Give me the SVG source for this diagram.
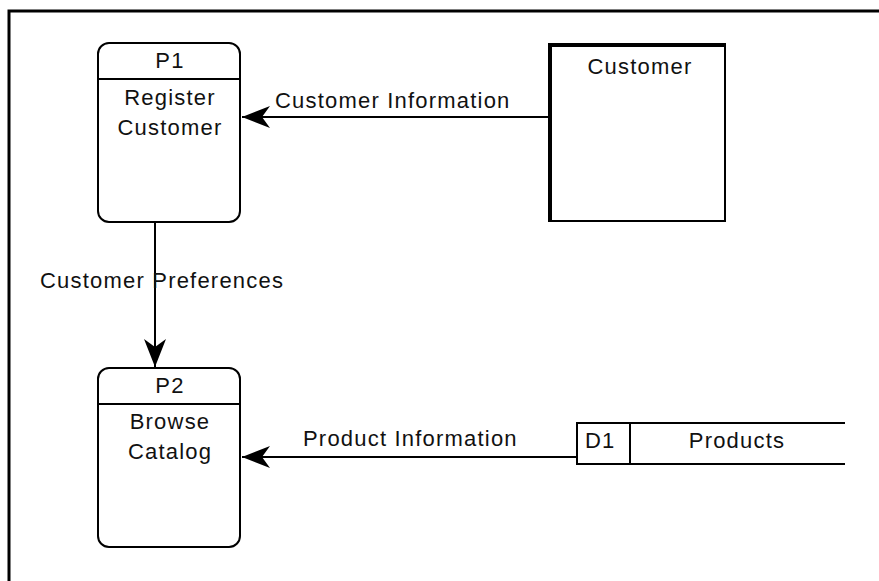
<svg xmlns="http://www.w3.org/2000/svg" width="879" height="581" viewBox="0 0 879 581">
<defs>
<style>
text{font-family:"Liberation Sans",Arial,sans-serif;font-size:22px;letter-spacing:1.2px;fill:#111;}
.box{fill:#fff;stroke:#000;stroke-width:2;}
.ln{fill:none;stroke:#000;stroke-width:2;}
.mid{text-anchor:middle;}
</style>
<marker id="arr" markerUnits="userSpaceOnUse" markerWidth="34" markerHeight="26" viewBox="-30 -13 34 26" refX="0" refY="0" orient="auto">
<path d="M0,0 L-28,-11 L-20,0 L-28,11 Z" fill="#000"/>
</marker>
</defs>
<rect width="879" height="581" fill="#fff"/>
<path d="M9,581 V11 H879" fill="none" stroke="#000" stroke-width="3"/>

<g id="connectors">
<line class="ln" x1="549" y1="117" x2="242" y2="117" marker-end="url(#arr)"/>
<text x="275" y="108">Customer Information</text>
<line class="ln" x1="155" y1="222" x2="155" y2="367" marker-end="url(#arr)"/>
<text x="40" y="288">Customer Preferences</text>
<line class="ln" x1="576" y1="457" x2="242" y2="457" marker-end="url(#arr)"/>
<text x="303" y="446">Product Information</text>
</g>

<g id="P1">
<rect class="box" x="98" y="43" width="142" height="179" rx="11"/>
<line class="ln" x1="98" y1="79" x2="240" y2="79"/>
<text class="mid" x="170" y="68">P1</text>
<text class="mid" x="170" y="105">Register</text>
<text class="mid" x="170" y="135">Customer</text>
</g>

<g id="P2">
<rect class="box" x="98" y="368" width="142" height="179" rx="11"/>
<line class="ln" x1="98" y1="404" x2="240" y2="404"/>
<text class="mid" x="170" y="393">P2</text>
<text class="mid" x="170" y="429">Browse</text>
<text class="mid" x="170" y="459">Catalog</text>
</g>

<g id="Customer">
<rect class="box" x="549" y="44" width="176" height="177"/>
<path d="M550,221 V45 H725" fill="none" stroke="#000" stroke-width="4"/>
<text class="mid" x="640" y="74">Customer</text>
</g>

<g id="D1">
<path class="ln" d="M845,423 H577 V464 H845 M630,423 V464"/>
<text x="585" y="448">D1</text>
<text class="mid" x="737" y="448">Products</text>
</g>
</svg>
